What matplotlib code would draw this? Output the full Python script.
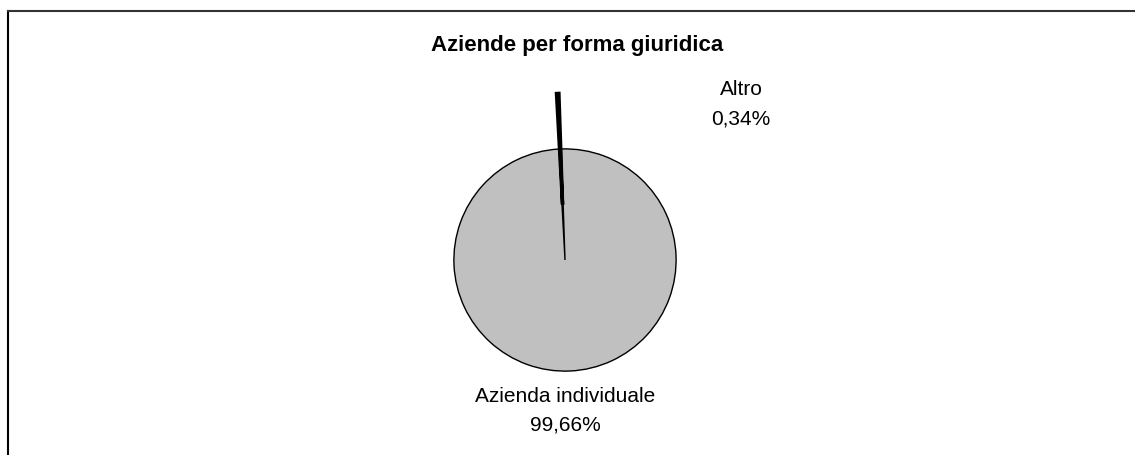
import matplotlib.pyplot as plt
from matplotlib.lines import Line2D

categories = ['Azienda individuale', 'Altro']
shares = [99.66, 0.34]
pct_labels = ['99,66%', '0,34%']

plt.rcParams['font.family'] = ['Liberation Sans', 'DejaVu Sans']

fig = plt.figure(figsize=(11.35, 4.56), dpi=100)

# outer chart frame (only left and top edges show)
fig.add_artist(Line2D([8 / 1135, 8 / 1135], [0, 1 - 12 / 456], color='black', lw=1.5))
fig.add_artist(Line2D([8 / 1135, 1], [1 - 12 / 456, 1 - 12 / 456], color='#333333', lw=1.5))

fig.text(577 / 1135, 1 - 45 / 456, 'Aziende per forma giuridica',
         ha='center', va='center', fontsize=16, fontweight='bold')

ax = fig.add_axes([(565 - 150) / 1135, 1 - 411 / 456, 300 / 1135, 300 / 456])
wedges, _ = ax.pie(shares, colors=['#c0c0c0', 'black'], explode=[0, 0.5],
                   startangle=91.9, counterclock=False,
                   wedgeprops={'edgecolor': 'black', 'linewidth': 1})
wedges[1].set_linewidth(2.5)
ax.set_xlim(-1.35, 1.35)
ax.set_ylim(-1.35, 1.35)
ax.set_aspect('equal')
ax.axis('off')

ax.text(0, -1.35, f'{categories[0]}\n{pct_labels[0]}', ha='center', va='center',
        fontsize=15, linespacing=1.65, clip_on=False)
ax.text(1.585, 1.41, f'{categories[1]}\n{pct_labels[1]}', ha='center', va='center',
        fontsize=15, linespacing=1.65, clip_on=False)

fig.savefig('out.png', dpi=100)
